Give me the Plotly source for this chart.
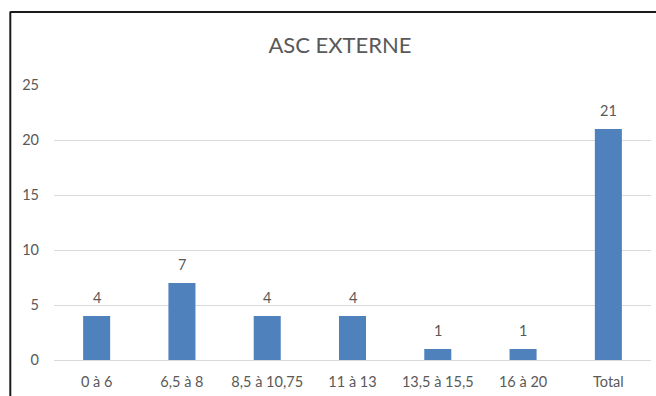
import plotly.graph_objects as go

# Score bands and counts
categories = ["0 à 6", "6,5 à 8", "8,5 à 10,75", "11 à 13", "13,5 à 15,5", "16 à 20", "Total"]
counts = [4, 7, 4, 4, 1, 1, 21]
y_ticks = [0, 5, 10, 15, 20, 25]

W, H = 656, 396
ML, MR, MT, MB = 54, 5, 85, 36
plot_w = W - ML - MR
plot_h = H - MT - MB

TEXT = "#595959"
BAR = "#4F81BD"
GRID = "#D9D9D9"
FONT = "Lato"
FS = 14.5

fig = go.Figure(
    go.Bar(
        x=categories,
        y=counts,
        marker=dict(color=BAR, line=dict(width=0)),
        hoverinfo="skip",
    )
)

# value labels above each bar
for c, v in zip(categories, counts):
    fig.add_annotation(
        x=c, y=v, text=str(v), showarrow=False,
        yanchor="bottom", yshift=8,
        font=dict(family=FONT, size=FS, color=TEXT),
    )

# chart frame: left and top edges
def px_x(px):
    return (px - ML) / plot_w

def px_y(py):
    return (H - MB - py) / plot_h

frame = dict(color="#1A1A1A", width=2)
fig.add_shape(type="line", xref="paper", yref="paper",
              x0=px_x(10.3), x1=px_x(10.3), y0=px_y(11.5), y1=px_y(H + 10), line=frame)
fig.add_shape(type="line", xref="paper", yref="paper",
              x0=px_x(10.3), x1=px_x(W + 10), y0=px_y(12), y1=px_y(12), line=frame)

fig.update_layout(
    width=W, height=H,
    margin=dict(l=ML, r=MR, t=MT, b=MB),
    paper_bgcolor="white", plot_bgcolor="white",
    bargap=0.683,
    showlegend=False,
    font=dict(family=FONT, size=FS, color=TEXT),
    title=dict(
        text="ASC EXTERNE",
        font=dict(family=FONT, size=22, color=TEXT),
        xref="container", x=340 / W, xanchor="center",
        yref="container", y=1 - 45 / H, yanchor="middle",
    ),
    xaxis=dict(
        showgrid=False, showline=False, ticks="",
        ticklabelstandoff=11,
        tickfont=dict(family=FONT, size=FS, color=TEXT),
    ),
    yaxis=dict(
        range=[0, 25], tickvals=y_ticks,
        showgrid=True, gridcolor=GRID, gridwidth=1.3,
        zeroline=True, zerolinecolor=GRID, zerolinewidth=1.3,
        showline=False, ticks="",
        ticklabelstandoff=14,
        tickfont=dict(family=FONT, size=FS, color=TEXT),
    ),
)

fig.write_html("out.html")
